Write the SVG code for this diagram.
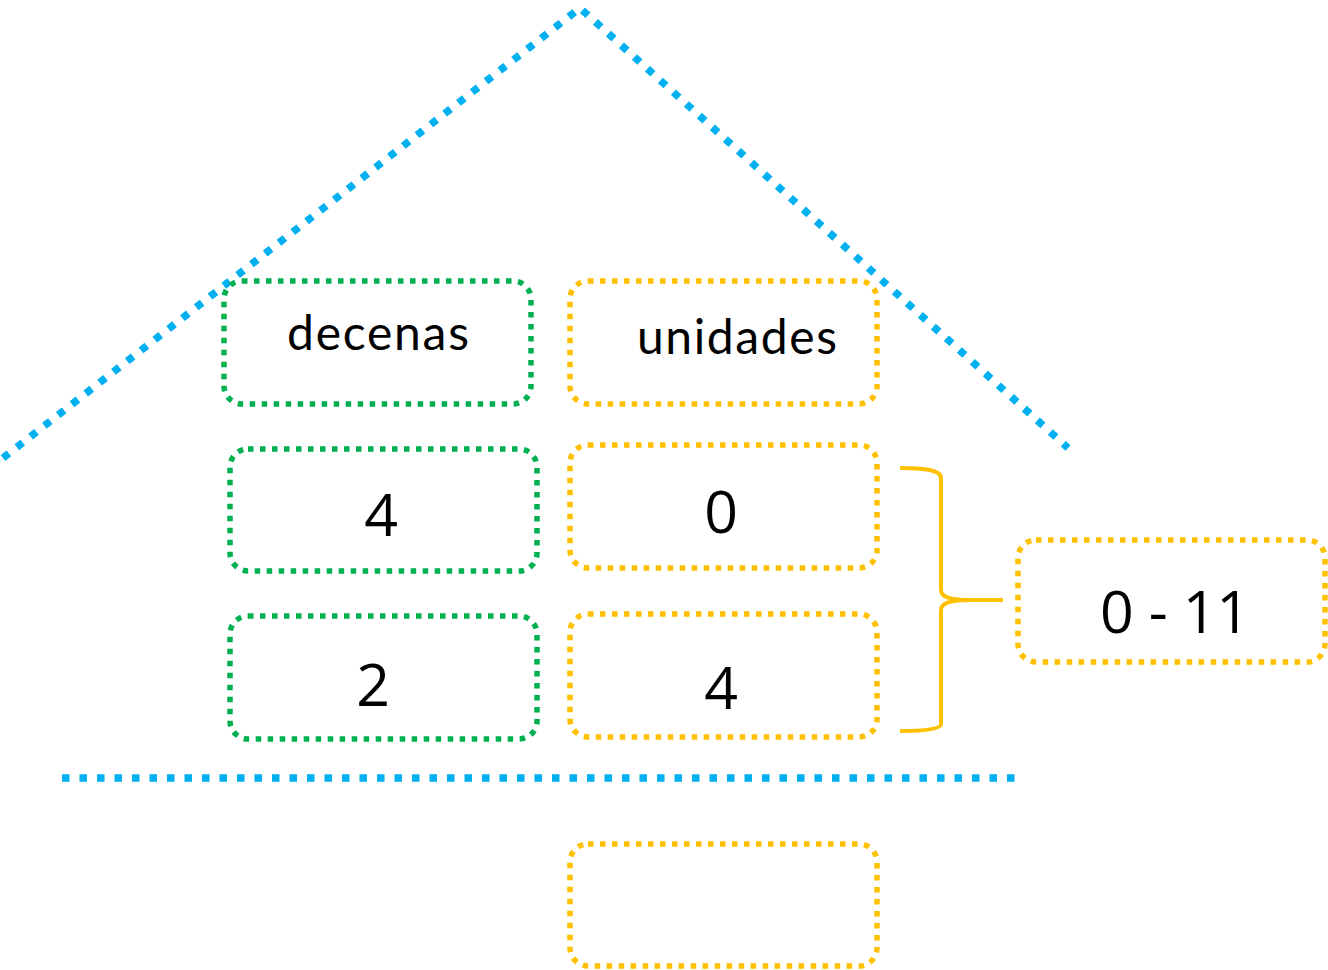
<svg xmlns="http://www.w3.org/2000/svg" width="1328" height="970" viewBox="0 0 1328 970">
<style>
.g{fill:none;stroke:#00B050;stroke-width:5.5;stroke-dasharray:5.5 6.5}
.y{fill:none;stroke:#FFC000;stroke-width:5.5;stroke-dasharray:5.5 6.5}
.b{fill:none;stroke:#00B0F0;stroke-width:7.5;stroke-dasharray:7.5 10}
.w{font-family:"Comic Sans MS","Lato","DejaVu Sans",sans-serif;font-size:48px;fill:#000;text-anchor:middle}
.n{font-family:"Open Sans","Liberation Sans",sans-serif;font-size:59px;fill:#000;text-anchor:middle}
</style>
<rect width="1328" height="970" fill="#fff"/>
<g id="connectors">
<polyline class="b" points="3,458 580,8 1068,448"/>
<line class="b" x1="62" y1="778" x2="1022" y2="778"/>
<path d="M900 468 C925 468 941 470 941 478 L941 590 C941 597 950 600 970 600 L1003 600 M970 600 C950 600 941 603 941 610 L941 724 C941 729 925 731 900 731" fill="none" stroke="#FFC000" stroke-width="4"/>
</g>
<g id="decenas"><rect class="g" x="224" y="281" width="307" height="123" rx="18"/><text class="w" x="378" y="350" textLength="182">decenas</text></g>
<g id="unidades"><rect class="y" x="570" y="281" width="307" height="123" rx="18"/><text class="w" x="737" y="354" textLength="200">unidades</text></g>
<g id="d4"><rect class="g" x="230" y="449" width="307" height="122" rx="18"/><text class="n" x="381" y="536">4</text></g>
<g id="u0"><rect class="y" x="570" y="445" width="307" height="123" rx="18"/><text class="n" x="721" y="533">0</text></g>
<g id="d2"><rect class="g" x="230" y="616" width="307" height="123" rx="18"/><text class="n" x="373" y="706">2</text></g>
<g id="u4"><rect class="y" x="570" y="614" width="307" height="123" rx="18"/><text class="n" x="721" y="709">4</text></g>
<g id="range"><rect class="y" x="1018" y="540" width="307" height="122" rx="18"/><text class="n" x="1175" y="633" textLength="150">0 - 11</text></g>
<g id="result"><rect class="y" x="570" y="844" width="307" height="122" rx="18"/></g>
</svg>
